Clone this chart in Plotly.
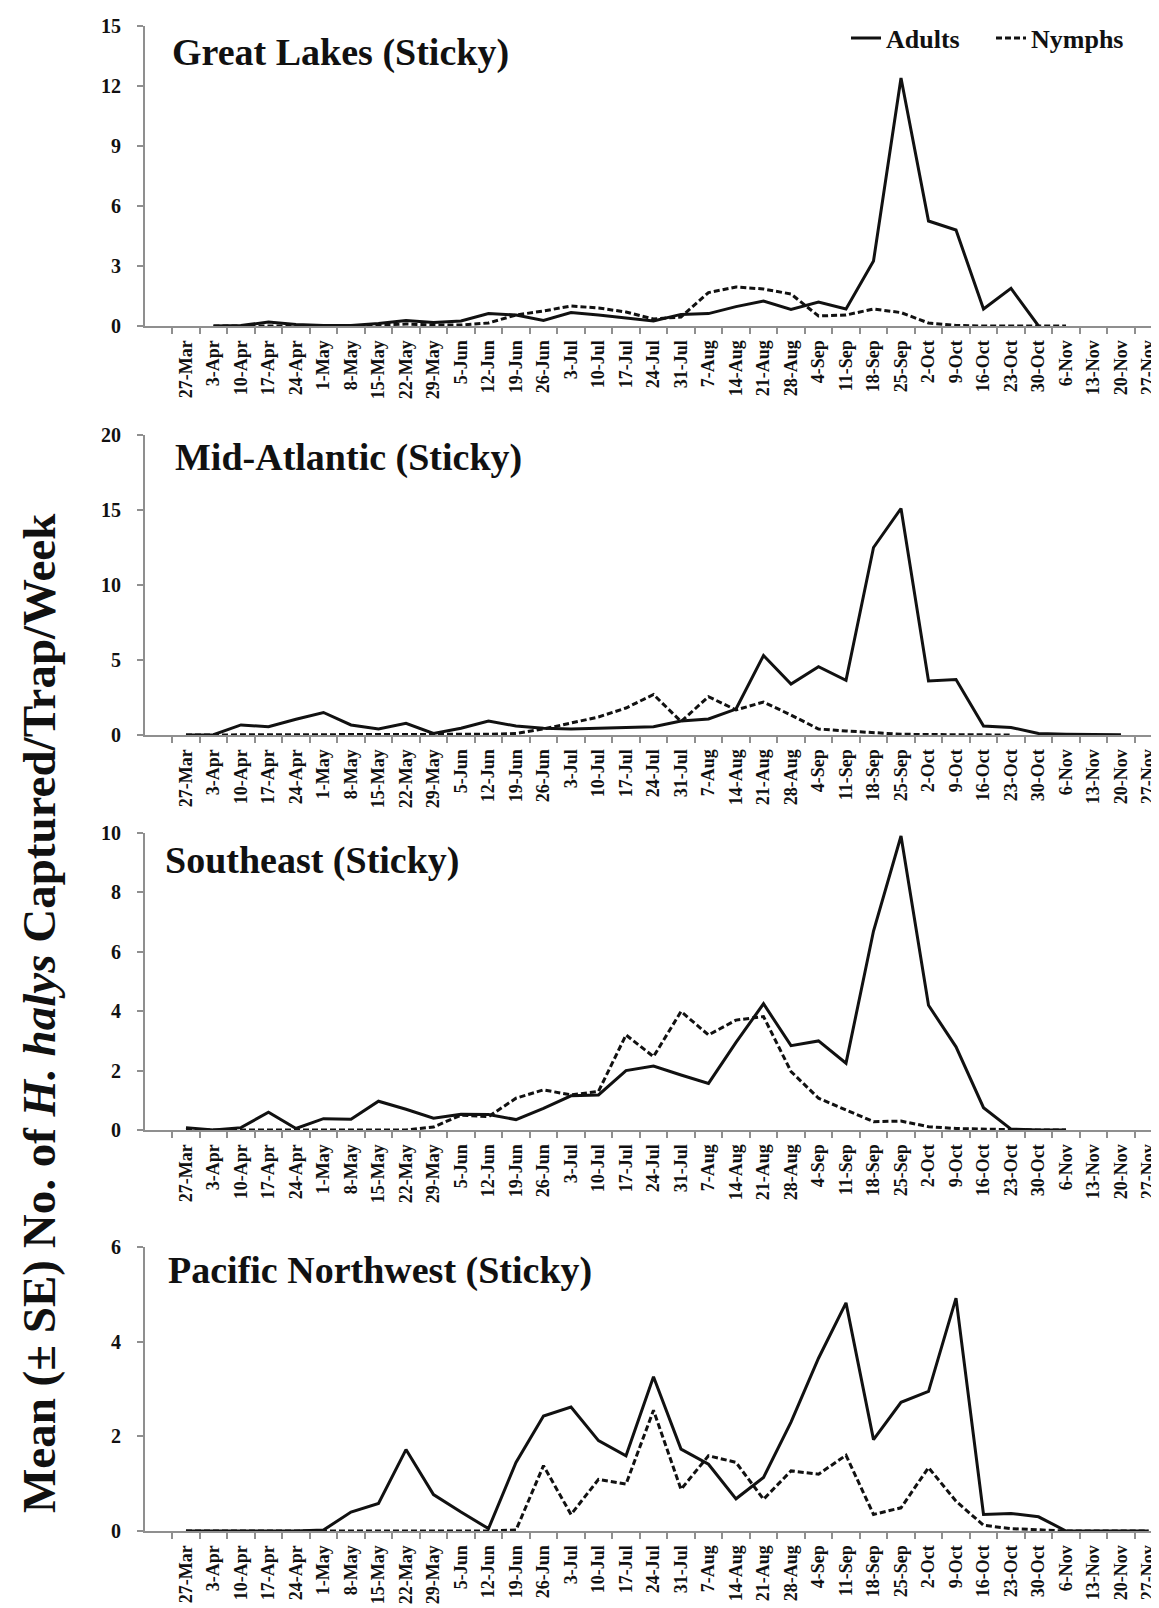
import plotly.graph_objects as go

dates = ["27-Mar", "3-Apr", "10-Apr", "17-Apr", "24-Apr", "1-May", "8-May", "15-May",
         "22-May", "29-May", "5-Jun", "12-Jun", "19-Jun", "26-Jun", "3-Jul", "10-Jul",
         "17-Jul", "24-Jul", "31-Jul", "7-Aug", "14-Aug", "21-Aug", "28-Aug", "4-Sep",
         "11-Sep", "18-Sep", "25-Sep", "2-Oct", "9-Oct", "16-Oct", "23-Oct", "30-Oct",
         "6-Nov", "13-Nov", "20-Nov", "27-Nov"]

gl_adults = [None, 0, 0.02, 0.2, 0.08, 0.02, 0.03, 0.12, 0.28, 0.17, 0.25, 0.62,
             0.55, 0.28, 0.67, 0.55, 0.4, 0.25, 0.58, 0.62, 0.97, 1.25, 0.83, 1.2,
             0.85, 3.25, 12.4, 5.25, 4.8, 0.85, 1.88, 0, None, None, None, None]
gl_nymphs = [None, 0, 0, 0, 0, 0, 0, 0.05, 0.1, 0.05, 0.05, 0.15,
             0.55, 0.75, 1.0, 0.9, 0.7, 0.35, 0.45, 1.67, 1.95, 1.85, 1.6, 0.5,
             0.55, 0.85, 0.67, 0.15, 0.03, 0, 0, 0, 0, None, None, None]

ma_adults = [0, 0.02, 0.67, 0.55, 1.05, 1.5, 0.67, 0.4, 0.78, 0.1, 0.45, 0.93,
             0.6, 0.45, 0.4, 0.45, 0.5, 0.55, 0.93, 1.07, 1.73, 5.3, 3.4, 4.55,
             3.65, 12.5, 15.1, 3.6, 3.7, 0.6, 0.5, 0.1, 0.05, 0.03, 0.02, None]
ma_nymphs = [0, 0, 0, 0, 0, 0, 0, 0, 0, 0, 0.02, 0.05,
             0.1, 0.4, 0.8, 1.2, 1.8, 2.7, 0.9, 2.55, 1.67, 2.2, 1.33, 0.4,
             0.27, 0.15, 0.05, 0.03, 0.02, 0.01, 0, None, None, None, None, None]

se_adults = [0.08, 0.0, 0.08, 0.6, 0.05, 0.38, 0.36, 0.97, 0.7, 0.4, 0.53, 0.52,
             0.35, 0.73, 1.15, 1.18, 2.0, 2.15, 1.85, 1.57, 2.95, 4.25, 2.84, 3.0,
             2.25, 6.7, 9.9, 4.2, 2.8, 0.75, 0.03, 0, 0, None, None, None]
se_nymphs = [0, 0, 0, 0, 0, 0, 0, 0, 0, 0.1, 0.5, 0.45,
             1.07, 1.35, 1.18, 1.3, 3.2, 2.47, 3.99, 3.2, 3.7, 3.82, 1.97, 1.07,
             0.67, 0.28, 0.3, 0.11, 0.05, 0.02, 0.01, 0, 0, None, None, None]

pnw_adults = [0, 0, 0, 0, 0, 0.02, 0.4, 0.58, 1.72, 0.77, 0.4, 0.05,
              1.45, 2.43, 2.62, 1.91, 1.59, 3.26, 1.73, 1.41, 0.68, 1.13, 2.3, 3.65,
              4.82, 1.93, 2.72, 2.95, 4.92, 0.35, 0.37, 0.3, 0, 0, 0, 0]
pnw_nymphs = [0, 0, 0, 0, 0, 0, 0, 0, 0, 0, 0, 0,
              0.02, 1.38, 0.35, 1.09, 0.99, 2.55, 0.88, 1.59, 1.45, 0.67, 1.27, 1.2,
              1.6, 0.35, 0.49, 1.34, 0.63, 0.12, 0.05, 0.03, 0, 0, 0, 0]

titles = ["Great Lakes (Sticky)", "Mid-Atlantic (Sticky)", "Southeast (Sticky)",
          "Pacific Northwest (Sticky)"]
y_max = [15, 20, 10, 6]
y_dtick = [3, 5, 2, 2]
series = [(gl_adults, gl_nymphs), (ma_adults, ma_nymphs),
          (se_adults, se_nymphs), (pnw_adults, pnw_nymphs)]

W, H = 1159, 1608
SERIF = "Liberation Serif"
AXIS_GRAY = "#8f8f8f"
LINE_COL = "#111111"

# pixel layout (top, bottom) of each panel's plotting area
panel_px = [(18, 318), (427, 727), (825, 1122), (1239, 1523)]
title_px = [(162, 44), (165, 449), (155, 852), (158, 1262)]
x_left_px, x_right_px = 137, 1154

fig = go.Figure()
for k in range(4):
    ax = "" if k == 0 else str(k + 1)
    a, n = series[k]
    fig.add_trace(go.Scatter(
        x=dates, y=a, mode="lines", name="Adults",
        line=dict(color=LINE_COL, width=3),
        xaxis="x" + ax, yaxis="y" + ax, showlegend=(k == 0)))
    fig.add_trace(go.Scatter(
        x=dates, y=n, mode="lines", name="Nymphs",
        line=dict(color=LINE_COL, width=3, dash="6px,3px"),
        xaxis="x" + ax, yaxis="y" + ax, showlegend=(k == 0)))

    top, bot = panel_px[k]
    xa = dict(
        domain=[x_left_px / W, x_right_px / W],
        anchor="y" + ax,
        type="category",
        categoryorder="array", categoryarray=dates,
        range=[-1.49, 35.49],
        tickson="boundaries",
        ticks="outside", ticklen=6, tickwidth=1.5, tickcolor=AXIS_GRAY,
        showline=True, linecolor=AXIS_GRAY, linewidth=2,
        showgrid=False, zeroline=False,
        tickangle=-90,
        tickfont=dict(family=SERIF, size=18, color="#111111", weight="bold"),
        ticklabelstandoff=5,
        automargin=False,
    )
    ya = dict(
        domain=[1 - bot / H, 1 - top / H],
        anchor="x" + ax,
        range=[0, y_max[k]], dtick=y_dtick[k], tick0=0,
        ticks="outside", ticklen=6, tickwidth=1.5, tickcolor=AXIS_GRAY,
        showline=True, linecolor=AXIS_GRAY, linewidth=2,
        showgrid=False, zeroline=False,
        tickfont=dict(family=SERIF, size=20, color="#111111", weight="bold"),
        ticklabelstandoff=12,
        automargin=False,
    )
    fig.update_layout({"xaxis" + ax: xa, "yaxis" + ax: ya})

    tx, ty = title_px[k]
    fig.add_annotation(
        text=titles[k], xref="paper", yref="paper",
        x=tx / W, y=1 - ty / H, xanchor="left", yanchor="middle",
        showarrow=False,
        font=dict(family=SERIF, size=38, color="#111111", weight="bold"))

fig.add_annotation(
    text="Mean (± SE) No. of <i>H. halys</i> Captured/Trap/Week",
    xref="paper", yref="paper", x=31 / W, y=1 - 1005 / H,
    xanchor="center", yanchor="middle", textangle=-90, showarrow=False,
    font=dict(family=SERIF, size=47, color="#111111", weight="bold"))

fig.update_layout(
    width=W, height=H,
    margin=dict(l=0, r=0, t=0, b=0),
    paper_bgcolor="white", plot_bgcolor="white",
    showlegend=True,
    legend=dict(
        orientation="h", x=1128 / W, y=1 - 30 / H,
        xanchor="right", yanchor="middle",
        font=dict(family=SERIF, size=26, color="#111111", weight="bold"),
        bgcolor="rgba(0,0,0,0)", itemwidth=30, tracegroupgap=0,
        entrywidth=100, entrywidthmode="pixels",
    ),
)

fig.write_html("out.html")
